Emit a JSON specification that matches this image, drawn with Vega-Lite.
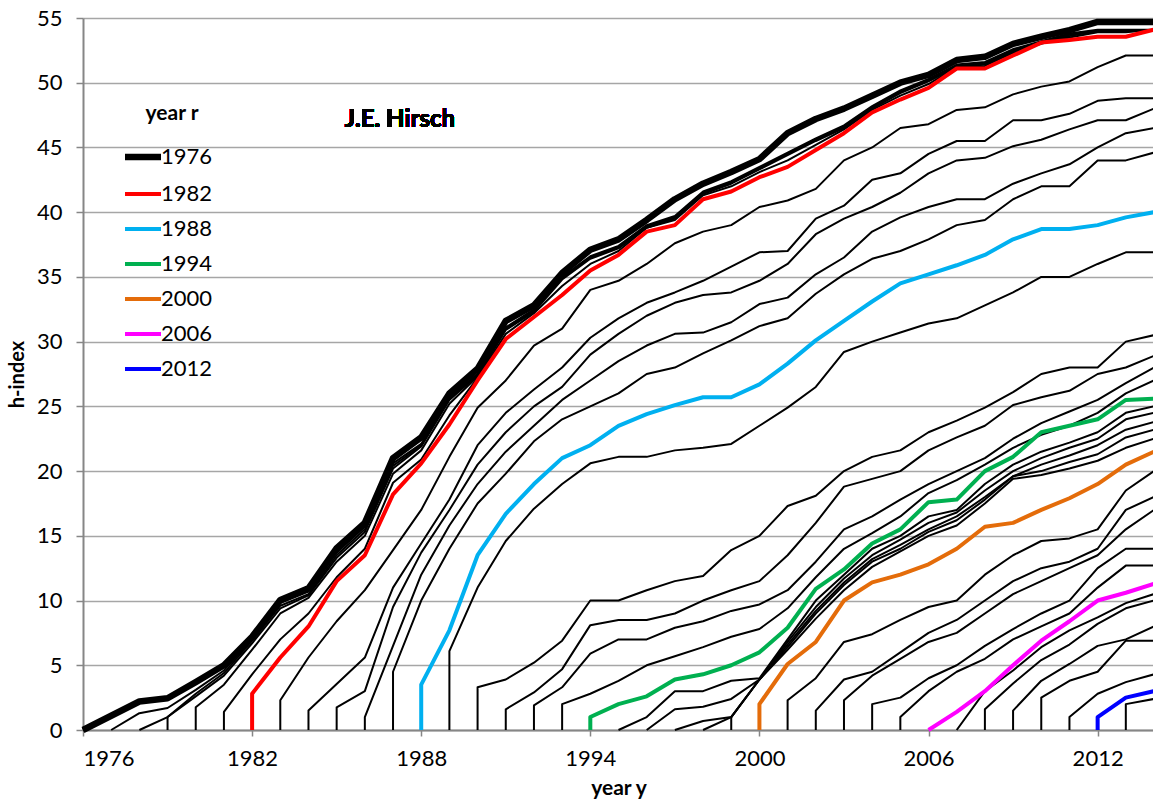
{
"$schema":"https://vega.github.io/schema/vega-lite/v6.json",
"width":1071,"height":712,
"autosize":{"type":"none"},
"padding":{"left":83,"top":18,"right":0,"bottom":81},
"background":"white",
"config":{"view":{"stroke":null},"font":"Lato"},
"data":{"values":[
{"r":1976,"x":1976,"h":0},{"r":1976,"x":1977,"h":1.1},{"r":1976,"x":1978,"h":2.2},{"r":1976,"x":1979,"h":2.45},{"r":1976,"x":1980,"h":3.7},{"r":1976,"x":1981,"h":5},{"r":1976,"x":1982,"h":7.2},{"r":1976,"x":1983,"h":10.05},{"r":1976,"x":1984,"h":10.95},{"r":1976,"x":1985,"h":14.05},{"r":1976,"x":1986,"h":16},{"r":1976,"x":1987,"h":21},{"r":1976,"x":1988,"h":22.6},{"r":1976,"x":1989,"h":26},{"r":1976,"x":1990,"h":27.9},{"r":1976,"x":1991,"h":31.6},{"r":1976,"x":1992,"h":32.8},{"r":1976,"x":1993,"h":35.3},{"r":1976,"x":1994,"h":37.1},{"r":1976,"x":1995,"h":37.9},{"r":1976,"x":1996,"h":39.4},{"r":1976,"x":1997,"h":41},{"r":1976,"x":1998,"h":42.2},{"r":1976,"x":1999,"h":43.1},{"r":1976,"x":2000,"h":44.1},{"r":1976,"x":2001,"h":46.1},{"r":1976,"x":2002,"h":47.2},{"r":1976,"x":2003,"h":48},{"r":1976,"x":2004,"h":49},{"r":1976,"x":2005,"h":50},{"r":1976,"x":2006,"h":50.6},{"r":1976,"x":2007,"h":51.75},{"r":1976,"x":2008,"h":52},{"r":1976,"x":2009,"h":53},{"r":1976,"x":2010,"h":53.55},{"r":1976,"x":2011,"h":54.07},{"r":1976,"x":2012,"h":54.7},{"r":1976,"x":2013,"h":54.7},{"r":1976,"x":2014,"h":54.7},
{"r":1977,"x":1977,"h":0},{"r":1977,"x":1978,"h":1.3},{"r":1977,"x":1979,"h":1.7},{"r":1977,"x":1980,"h":3.1},{"r":1977,"x":1981,"h":4.6},{"r":1977,"x":1982,"h":7},{"r":1977,"x":1983,"h":9.8},{"r":1977,"x":1984,"h":10.7},{"r":1977,"x":1985,"h":13.7},{"r":1977,"x":1986,"h":15.7},{"r":1977,"x":1987,"h":20.6},{"r":1977,"x":1988,"h":22.1},{"r":1977,"x":1989,"h":25.7},{"r":1977,"x":1990,"h":27.5},{"r":1977,"x":1991,"h":31.1},{"r":1977,"x":1992,"h":32.5},{"r":1977,"x":1993,"h":35},{"r":1977,"x":1994,"h":36.6},{"r":1977,"x":1995,"h":37.4},{"r":1977,"x":1996,"h":39},{"r":1977,"x":1997,"h":39.7},{"r":1977,"x":1998,"h":41.6},{"r":1977,"x":1999,"h":42.4},{"r":1977,"x":2000,"h":43.5},{"r":1977,"x":2001,"h":44.6},{"r":1977,"x":2002,"h":45.7},{"r":1977,"x":2003,"h":46.7},{"r":1977,"x":2004,"h":48.2},{"r":1977,"x":2005,"h":49.4},{"r":1977,"x":2006,"h":50.3},{"r":1977,"x":2007,"h":51.4},{"r":1977,"x":2008,"h":51.6},{"r":1977,"x":2009,"h":52.6},{"r":1977,"x":2010,"h":53.2},{"r":1977,"x":2011,"h":53.8},{"r":1977,"x":2012,"h":54.1},{"r":1977,"x":2013,"h":54.1},{"r":1977,"x":2014,"h":54.1},
{"r":1978,"x":1978,"h":0},{"r":1978,"x":1979,"h":1},{"r":1978,"x":1980,"h":2.8},{"r":1978,"x":1981,"h":4.4},{"r":1978,"x":1982,"h":6.9},{"r":1978,"x":1983,"h":9.6},{"r":1978,"x":1984,"h":10.5},{"r":1978,"x":1985,"h":13.5},{"r":1978,"x":1986,"h":15.5},{"r":1978,"x":1987,"h":20.4},{"r":1978,"x":1988,"h":22},{"r":1978,"x":1989,"h":25.6},{"r":1978,"x":1990,"h":27.5},{"r":1978,"x":1991,"h":31},{"r":1978,"x":1992,"h":32.4},{"r":1978,"x":1993,"h":34.9},{"r":1978,"x":1994,"h":36.5},{"r":1978,"x":1995,"h":37.3},{"r":1978,"x":1996,"h":38.9},{"r":1978,"x":1997,"h":39.6},{"r":1978,"x":1998,"h":41.5},{"r":1978,"x":1999,"h":42.3},{"r":1978,"x":2000,"h":43.4},{"r":1978,"x":2001,"h":44.5},{"r":1978,"x":2002,"h":45.6},{"r":1978,"x":2003,"h":46.6},{"r":1978,"x":2004,"h":48.1},{"r":1978,"x":2005,"h":49.3},{"r":1978,"x":2006,"h":50.2},{"r":1978,"x":2007,"h":51.3},{"r":1978,"x":2008,"h":51.5},{"r":1978,"x":2009,"h":52.5},{"r":1978,"x":2010,"h":53.1},{"r":1978,"x":2011,"h":53.7},{"r":1978,"x":2012,"h":54},{"r":1978,"x":2013,"h":54},{"r":1978,"x":2014,"h":54},
{"r":1979,"x":1979,"h":0},{"r":1979,"x":1979,"h":1},{"r":1979,"x":1980,"h":2.6},{"r":1979,"x":1981,"h":4.2},{"r":1979,"x":1982,"h":6.7},{"r":1979,"x":1983,"h":9.4},{"r":1979,"x":1984,"h":10.4},{"r":1979,"x":1985,"h":13.3},{"r":1979,"x":1986,"h":15.3},{"r":1979,"x":1987,"h":20.2},{"r":1979,"x":1988,"h":21.9},{"r":1979,"x":1989,"h":25.5},{"r":1979,"x":1990,"h":27.4},{"r":1979,"x":1991,"h":31},{"r":1979,"x":1992,"h":32.4},{"r":1979,"x":1993,"h":34.9},{"r":1979,"x":1994,"h":36.5},{"r":1979,"x":1995,"h":37.3},{"r":1979,"x":1996,"h":38.9},{"r":1979,"x":1997,"h":39.6},{"r":1979,"x":1998,"h":41.5},{"r":1979,"x":1999,"h":42.3},{"r":1979,"x":2000,"h":43.4},{"r":1979,"x":2001,"h":44.5},{"r":1979,"x":2002,"h":45.6},{"r":1979,"x":2003,"h":46.6},{"r":1979,"x":2004,"h":48.1},{"r":1979,"x":2005,"h":49.3},{"r":1979,"x":2006,"h":50.2},{"r":1979,"x":2007,"h":51.3},{"r":1979,"x":2008,"h":51.5},{"r":1979,"x":2009,"h":52.5},{"r":1979,"x":2010,"h":53.1},{"r":1979,"x":2011,"h":53.7},{"r":1979,"x":2012,"h":54},{"r":1979,"x":2013,"h":54},{"r":1979,"x":2014,"h":54},
{"r":1980,"x":1980,"h":0},{"r":1980,"x":1980,"h":1.75},{"r":1980,"x":1981,"h":3.5},{"r":1980,"x":1982,"h":6.2},{"r":1980,"x":1983,"h":9},{"r":1980,"x":1984,"h":10.2},{"r":1980,"x":1985,"h":13},{"r":1980,"x":1986,"h":15},{"r":1980,"x":1987,"h":19.8},{"r":1980,"x":1988,"h":21.6},{"r":1980,"x":1989,"h":25.2},{"r":1980,"x":1990,"h":27.3},{"r":1980,"x":1991,"h":30.9},{"r":1980,"x":1992,"h":32.3},{"r":1980,"x":1993,"h":34.8},{"r":1980,"x":1994,"h":36.4},{"r":1980,"x":1995,"h":37.2},{"r":1980,"x":1996,"h":38.8},{"r":1980,"x":1997,"h":39.5},{"r":1980,"x":1998,"h":41.4},{"r":1980,"x":1999,"h":42.2},{"r":1980,"x":2000,"h":43.3},{"r":1980,"x":2001,"h":44.4},{"r":1980,"x":2002,"h":45.5},{"r":1980,"x":2003,"h":46.5},{"r":1980,"x":2004,"h":48},{"r":1980,"x":2005,"h":49.2},{"r":1980,"x":2006,"h":50.1},{"r":1980,"x":2007,"h":51.2},{"r":1980,"x":2008,"h":51.4},{"r":1980,"x":2009,"h":52.4},{"r":1980,"x":2010,"h":53},{"r":1980,"x":2011,"h":53.6},{"r":1980,"x":2012,"h":54},{"r":1980,"x":2013,"h":54},{"r":1980,"x":2014,"h":54},
{"r":1981,"x":1981,"h":0},{"r":1981,"x":1981,"h":1.4},{"r":1981,"x":1982,"h":4.3},{"r":1981,"x":1983,"h":7},{"r":1981,"x":1984,"h":9},{"r":1981,"x":1985,"h":11.8},{"r":1981,"x":1986,"h":14},{"r":1981,"x":1987,"h":19.1},{"r":1981,"x":1988,"h":20.9},{"r":1981,"x":1989,"h":24.3},{"r":1981,"x":1990,"h":27.2},{"r":1981,"x":1991,"h":30.6},{"r":1981,"x":1992,"h":32.2},{"r":1981,"x":1993,"h":34.3},{"r":1981,"x":1994,"h":36},{"r":1981,"x":1995,"h":37},{"r":1981,"x":1996,"h":38.8},{"r":1981,"x":1997,"h":39.4},{"r":1981,"x":1998,"h":41.3},{"r":1981,"x":1999,"h":42},{"r":1981,"x":2000,"h":43.1},{"r":1981,"x":2001,"h":44},{"r":1981,"x":2002,"h":45.2},{"r":1981,"x":2003,"h":46.4},{"r":1981,"x":2004,"h":47.9},{"r":1981,"x":2005,"h":49},{"r":1981,"x":2006,"h":49.9},{"r":1981,"x":2007,"h":51.2},{"r":1981,"x":2008,"h":51.3},{"r":1981,"x":2009,"h":52.3},{"r":1981,"x":2010,"h":53.1},{"r":1981,"x":2011,"h":53.5},{"r":1981,"x":2012,"h":53.9},{"r":1981,"x":2013,"h":53.9},{"r":1981,"x":2014,"h":54.1},
{"r":1982,"x":1982,"h":0},{"r":1982,"x":1982,"h":2.8},{"r":1982,"x":1983,"h":5.6},{"r":1982,"x":1984,"h":8},{"r":1982,"x":1985,"h":11.5},{"r":1982,"x":1986,"h":13.5},{"r":1982,"x":1987,"h":18.2},{"r":1982,"x":1988,"h":20.6},{"r":1982,"x":1989,"h":23.6},{"r":1982,"x":1990,"h":27},{"r":1982,"x":1991,"h":30.2},{"r":1982,"x":1992,"h":31.9},{"r":1982,"x":1993,"h":33.6},{"r":1982,"x":1994,"h":35.5},{"r":1982,"x":1995,"h":36.7},{"r":1982,"x":1996,"h":38.5},{"r":1982,"x":1997,"h":39},{"r":1982,"x":1998,"h":41},{"r":1982,"x":1999,"h":41.6},{"r":1982,"x":2000,"h":42.7},{"r":1982,"x":2001,"h":43.5},{"r":1982,"x":2002,"h":44.8},{"r":1982,"x":2003,"h":46.1},{"r":1982,"x":2004,"h":47.7},{"r":1982,"x":2005,"h":48.7},{"r":1982,"x":2006,"h":49.6},{"r":1982,"x":2007,"h":51.1},{"r":1982,"x":2008,"h":51.1},{"r":1982,"x":2009,"h":52.1},{"r":1982,"x":2010,"h":53.1},{"r":1982,"x":2011,"h":53.3},{"r":1982,"x":2012,"h":53.55},{"r":1982,"x":2013,"h":53.55},{"r":1982,"x":2014,"h":54.1},
{"r":1983,"x":1983,"h":0},{"r":1983,"x":1983,"h":2.3},{"r":1983,"x":1984,"h":5.6},{"r":1983,"x":1985,"h":8.4},{"r":1983,"x":1986,"h":10.8},{"r":1983,"x":1987,"h":13.9},{"r":1983,"x":1988,"h":17},{"r":1983,"x":1989,"h":21.1},{"r":1983,"x":1990,"h":24.9},{"r":1983,"x":1991,"h":27},{"r":1983,"x":1992,"h":29.7},{"r":1983,"x":1993,"h":31},{"r":1983,"x":1994,"h":34},{"r":1983,"x":1995,"h":34.7},{"r":1983,"x":1996,"h":36},{"r":1983,"x":1997,"h":37.6},{"r":1983,"x":1998,"h":38.5},{"r":1983,"x":1999,"h":39},{"r":1983,"x":2000,"h":40.4},{"r":1983,"x":2001,"h":40.9},{"r":1983,"x":2002,"h":41.8},{"r":1983,"x":2003,"h":44},{"r":1983,"x":2004,"h":45},{"r":1983,"x":2005,"h":46.5},{"r":1983,"x":2006,"h":46.8},{"r":1983,"x":2007,"h":47.9},{"r":1983,"x":2008,"h":48.1},{"r":1983,"x":2009,"h":49.1},{"r":1983,"x":2010,"h":49.7},{"r":1983,"x":2011,"h":50.1},{"r":1983,"x":2012,"h":51.2},{"r":1983,"x":2013,"h":52.1},{"r":1983,"x":2014,"h":52.1},
{"r":1984,"x":1984,"h":0},{"r":1984,"x":1984,"h":1.5},{"r":1984,"x":1985,"h":3.55},{"r":1984,"x":1986,"h":5.6},{"r":1984,"x":1987,"h":11},{"r":1984,"x":1988,"h":14.4},{"r":1984,"x":1989,"h":17.8},{"r":1984,"x":1990,"h":22},{"r":1984,"x":1991,"h":24.5},{"r":1984,"x":1992,"h":26.3},{"r":1984,"x":1993,"h":28},{"r":1984,"x":1994,"h":30.3},{"r":1984,"x":1995,"h":31.8},{"r":1984,"x":1996,"h":33},{"r":1984,"x":1997,"h":33.8},{"r":1984,"x":1998,"h":34.7},{"r":1984,"x":1999,"h":35.8},{"r":1984,"x":2000,"h":36.9},{"r":1984,"x":2001,"h":37},{"r":1984,"x":2002,"h":39.5},{"r":1984,"x":2003,"h":40.5},{"r":1984,"x":2004,"h":42.5},{"r":1984,"x":2005,"h":43},{"r":1984,"x":2006,"h":44.5},{"r":1984,"x":2007,"h":45.5},{"r":1984,"x":2008,"h":45.5},{"r":1984,"x":2009,"h":47.1},{"r":1984,"x":2010,"h":47.1},{"r":1984,"x":2011,"h":47.6},{"r":1984,"x":2012,"h":48.6},{"r":1984,"x":2013,"h":48.8},{"r":1984,"x":2014,"h":48.8},
{"r":1985,"x":1985,"h":0},{"r":1985,"x":1985,"h":1.75},{"r":1985,"x":1986,"h":3},{"r":1985,"x":1987,"h":9.5},{"r":1985,"x":1988,"h":13.7},{"r":1985,"x":1989,"h":17},{"r":1985,"x":1990,"h":20.5},{"r":1985,"x":1991,"h":23},{"r":1985,"x":1992,"h":25},{"r":1985,"x":1993,"h":26.5},{"r":1985,"x":1994,"h":29},{"r":1985,"x":1995,"h":30.6},{"r":1985,"x":1996,"h":32},{"r":1985,"x":1997,"h":33},{"r":1985,"x":1998,"h":33.6},{"r":1985,"x":1999,"h":33.8},{"r":1985,"x":2000,"h":34.7},{"r":1985,"x":2001,"h":36},{"r":1985,"x":2002,"h":38.3},{"r":1985,"x":2003,"h":39.5},{"r":1985,"x":2004,"h":40.4},{"r":1985,"x":2005,"h":41.5},{"r":1985,"x":2006,"h":43},{"r":1985,"x":2007,"h":44},{"r":1985,"x":2008,"h":44.2},{"r":1985,"x":2009,"h":45.1},{"r":1985,"x":2010,"h":45.6},{"r":1985,"x":2011,"h":46.4},{"r":1985,"x":2012,"h":47.1},{"r":1985,"x":2013,"h":47.1},{"r":1985,"x":2014,"h":48},
{"r":1986,"x":1986,"h":0},{"r":1986,"x":1986,"h":1},{"r":1986,"x":1987,"h":6.5},{"r":1986,"x":1988,"h":12},{"r":1986,"x":1989,"h":15.8},{"r":1986,"x":1990,"h":19},{"r":1986,"x":1991,"h":21.5},{"r":1986,"x":1992,"h":23.5},{"r":1986,"x":1993,"h":25.5},{"r":1986,"x":1994,"h":27},{"r":1986,"x":1995,"h":28.5},{"r":1986,"x":1996,"h":29.7},{"r":1986,"x":1997,"h":30.6},{"r":1986,"x":1998,"h":30.7},{"r":1986,"x":1999,"h":31.5},{"r":1986,"x":2000,"h":32.9},{"r":1986,"x":2001,"h":33.4},{"r":1986,"x":2002,"h":35.2},{"r":1986,"x":2003,"h":36.5},{"r":1986,"x":2004,"h":38.5},{"r":1986,"x":2005,"h":39.6},{"r":1986,"x":2006,"h":40.4},{"r":1986,"x":2007,"h":41},{"r":1986,"x":2008,"h":41},{"r":1986,"x":2009,"h":42.2},{"r":1986,"x":2010,"h":43},{"r":1986,"x":2011,"h":43.7},{"r":1986,"x":2012,"h":45},{"r":1986,"x":2013,"h":46.1},{"r":1986,"x":2014,"h":46.5},
{"r":1987,"x":1987,"h":0},{"r":1987,"x":1987,"h":4.5},{"r":1987,"x":1988,"h":10},{"r":1987,"x":1989,"h":14},{"r":1987,"x":1990,"h":17.5},{"r":1987,"x":1991,"h":19.8},{"r":1987,"x":1992,"h":22.3},{"r":1987,"x":1993,"h":24},{"r":1987,"x":1994,"h":25},{"r":1987,"x":1995,"h":26},{"r":1987,"x":1996,"h":27.5},{"r":1987,"x":1997,"h":28},{"r":1987,"x":1998,"h":29.1},{"r":1987,"x":1999,"h":30.1},{"r":1987,"x":2000,"h":31.2},{"r":1987,"x":2001,"h":31.8},{"r":1987,"x":2002,"h":33.7},{"r":1987,"x":2003,"h":35.2},{"r":1987,"x":2004,"h":36.4},{"r":1987,"x":2005,"h":37},{"r":1987,"x":2006,"h":37.9},{"r":1987,"x":2007,"h":39},{"r":1987,"x":2008,"h":39.4},{"r":1987,"x":2009,"h":41},{"r":1987,"x":2010,"h":42},{"r":1987,"x":2011,"h":42},{"r":1987,"x":2012,"h":44},{"r":1987,"x":2013,"h":44},{"r":1987,"x":2014,"h":44.6},
{"r":1988,"x":1988,"h":0},{"r":1988,"x":1988,"h":3.5},{"r":1988,"x":1989,"h":7.7},{"r":1988,"x":1990,"h":13.5},{"r":1988,"x":1991,"h":16.7},{"r":1988,"x":1992,"h":19},{"r":1988,"x":1993,"h":21},{"r":1988,"x":1994,"h":22},{"r":1988,"x":1995,"h":23.5},{"r":1988,"x":1996,"h":24.4},{"r":1988,"x":1997,"h":25.1},{"r":1988,"x":1998,"h":25.7},{"r":1988,"x":1999,"h":25.7},{"r":1988,"x":2000,"h":26.7},{"r":1988,"x":2001,"h":28.3},{"r":1988,"x":2002,"h":30.1},{"r":1988,"x":2003,"h":31.6},{"r":1988,"x":2004,"h":33.1},{"r":1988,"x":2005,"h":34.5},{"r":1988,"x":2006,"h":35.2},{"r":1988,"x":2007,"h":35.9},{"r":1988,"x":2008,"h":36.7},{"r":1988,"x":2009,"h":37.9},{"r":1988,"x":2010,"h":38.7},{"r":1988,"x":2011,"h":38.7},{"r":1988,"x":2012,"h":39},{"r":1988,"x":2013,"h":39.6},{"r":1988,"x":2014,"h":40},
{"r":1989,"x":1989,"h":0},{"r":1989,"x":1989,"h":6.1},{"r":1989,"x":1990,"h":11},{"r":1989,"x":1991,"h":14.6},{"r":1989,"x":1992,"h":17.1},{"r":1989,"x":1993,"h":19},{"r":1989,"x":1994,"h":20.6},{"r":1989,"x":1995,"h":21.1},{"r":1989,"x":1996,"h":21.1},{"r":1989,"x":1997,"h":21.6},{"r":1989,"x":1998,"h":21.8},{"r":1989,"x":1999,"h":22.1},{"r":1989,"x":2000,"h":23.5},{"r":1989,"x":2001,"h":24.9},{"r":1989,"x":2002,"h":26.5},{"r":1989,"x":2003,"h":29.2},{"r":1989,"x":2004,"h":30},{"r":1989,"x":2005,"h":30.7},{"r":1989,"x":2006,"h":31.4},{"r":1989,"x":2007,"h":31.8},{"r":1989,"x":2008,"h":32.8},{"r":1989,"x":2009,"h":33.8},{"r":1989,"x":2010,"h":35},{"r":1989,"x":2011,"h":35},{"r":1989,"x":2012,"h":36},{"r":1989,"x":2013,"h":36.9},{"r":1989,"x":2014,"h":36.9},
{"r":1990,"x":1990,"h":0},{"r":1990,"x":1990,"h":3.3},{"r":1990,"x":1991,"h":3.9},{"r":1990,"x":1992,"h":5.2},{"r":1990,"x":1993,"h":6.9},{"r":1990,"x":1994,"h":10},{"r":1990,"x":1995,"h":10},{"r":1990,"x":1996,"h":10.8},{"r":1990,"x":1997,"h":11.5},{"r":1990,"x":1998,"h":11.9},{"r":1990,"x":1999,"h":13.9},{"r":1990,"x":2000,"h":15},{"r":1990,"x":2001,"h":17.3},{"r":1990,"x":2002,"h":18.1},{"r":1990,"x":2003,"h":20},{"r":1990,"x":2004,"h":21.1},{"r":1990,"x":2005,"h":21.6},{"r":1990,"x":2006,"h":23},{"r":1990,"x":2007,"h":23.9},{"r":1990,"x":2008,"h":24.9},{"r":1990,"x":2009,"h":26.1},{"r":1990,"x":2010,"h":27.5},{"r":1990,"x":2011,"h":28},{"r":1990,"x":2012,"h":28},{"r":1990,"x":2013,"h":30},{"r":1990,"x":2014,"h":30.5},
{"r":1991,"x":1991,"h":0},{"r":1991,"x":1991,"h":1.6},{"r":1991,"x":1992,"h":2.9},{"r":1991,"x":1993,"h":4.7},{"r":1991,"x":1994,"h":8.1},{"r":1991,"x":1995,"h":8.5},{"r":1991,"x":1996,"h":8.5},{"r":1991,"x":1997,"h":9},{"r":1991,"x":1998,"h":10},{"r":1991,"x":1999,"h":10.8},{"r":1991,"x":2000,"h":11.5},{"r":1991,"x":2001,"h":13.5},{"r":1991,"x":2002,"h":16},{"r":1991,"x":2003,"h":18.8},{"r":1991,"x":2004,"h":19.4},{"r":1991,"x":2005,"h":20},{"r":1991,"x":2006,"h":21.6},{"r":1991,"x":2007,"h":22.6},{"r":1991,"x":2008,"h":23.5},{"r":1991,"x":2009,"h":25.1},{"r":1991,"x":2010,"h":25.7},{"r":1991,"x":2011,"h":26.2},{"r":1991,"x":2012,"h":27.5},{"r":1991,"x":2013,"h":28},{"r":1991,"x":2014,"h":28.9},
{"r":1992,"x":1992,"h":0},{"r":1992,"x":1992,"h":1.9},{"r":1992,"x":1993,"h":3.3},{"r":1992,"x":1994,"h":5.9},{"r":1992,"x":1995,"h":7},{"r":1992,"x":1996,"h":7},{"r":1992,"x":1997,"h":7.9},{"r":1992,"x":1998,"h":8.4},{"r":1992,"x":1999,"h":9.2},{"r":1992,"x":2000,"h":9.7},{"r":1992,"x":2001,"h":10.8},{"r":1992,"x":2002,"h":13},{"r":1992,"x":2003,"h":15.5},{"r":1992,"x":2004,"h":16.5},{"r":1992,"x":2005,"h":17.8},{"r":1992,"x":2006,"h":19},{"r":1992,"x":2007,"h":20},{"r":1992,"x":2008,"h":21},{"r":1992,"x":2009,"h":22.5},{"r":1992,"x":2010,"h":23.7},{"r":1992,"x":2011,"h":24.6},{"r":1992,"x":2012,"h":25.5},{"r":1992,"x":2013,"h":26.8},{"r":1992,"x":2014,"h":28},
{"r":1993,"x":1993,"h":0},{"r":1993,"x":1993,"h":2},{"r":1993,"x":1994,"h":2.8},{"r":1993,"x":1995,"h":3.8},{"r":1993,"x":1996,"h":5},{"r":1993,"x":1997,"h":5.7},{"r":1993,"x":1998,"h":6.4},{"r":1993,"x":1999,"h":7.2},{"r":1993,"x":2000,"h":7.8},{"r":1993,"x":2001,"h":9.4},{"r":1993,"x":2002,"h":11.8},{"r":1993,"x":2003,"h":14},{"r":1993,"x":2004,"h":15.2},{"r":1993,"x":2005,"h":16.5},{"r":1993,"x":2006,"h":18.3},{"r":1993,"x":2007,"h":19.3},{"r":1993,"x":2008,"h":20.5},{"r":1993,"x":2009,"h":21.8},{"r":1993,"x":2010,"h":22.8},{"r":1993,"x":2011,"h":23.5},{"r":1993,"x":2012,"h":24.5},{"r":1993,"x":2013,"h":26},{"r":1993,"x":2014,"h":27},
{"r":1994,"x":1994,"h":0},{"r":1994,"x":1994,"h":1},{"r":1994,"x":1995,"h":2},{"r":1994,"x":1996,"h":2.6},{"r":1994,"x":1997,"h":3.9},{"r":1994,"x":1998,"h":4.3},{"r":1994,"x":1999,"h":5},{"r":1994,"x":2000,"h":6},{"r":1994,"x":2001,"h":7.9},{"r":1994,"x":2002,"h":10.9},{"r":1994,"x":2003,"h":12.4},{"r":1994,"x":2004,"h":14.4},{"r":1994,"x":2005,"h":15.5},{"r":1994,"x":2006,"h":17.6},{"r":1994,"x":2007,"h":17.8},{"r":1994,"x":2008,"h":20},{"r":1994,"x":2009,"h":21.1},{"r":1994,"x":2010,"h":23},{"r":1994,"x":2011,"h":23.5},{"r":1994,"x":2012,"h":24},{"r":1994,"x":2013,"h":25.5},{"r":1994,"x":2014,"h":25.6},
{"r":1995,"x":1995,"h":0},{"r":1995,"x":1996,"h":1},{"r":1995,"x":1997,"h":3},{"r":1995,"x":1998,"h":3},{"r":1995,"x":1999,"h":3.8},{"r":1995,"x":2000,"h":4},{"r":1995,"x":2001,"h":7},{"r":1995,"x":2002,"h":10},{"r":1995,"x":2003,"h":12},{"r":1995,"x":2004,"h":14},{"r":1995,"x":2005,"h":15},{"r":1995,"x":2006,"h":16.5},{"r":1995,"x":2007,"h":17},{"r":1995,"x":2008,"h":19},{"r":1995,"x":2009,"h":20.5},{"r":1995,"x":2010,"h":21.5},{"r":1995,"x":2011,"h":22.2},{"r":1995,"x":2012,"h":23},{"r":1995,"x":2013,"h":24.5},{"r":1995,"x":2014,"h":25},
{"r":1996,"x":1996,"h":0},{"r":1996,"x":1997,"h":1.6},{"r":1996,"x":1998,"h":1.8},{"r":1996,"x":1999,"h":2.4},{"r":1996,"x":2000,"h":3.9},{"r":1996,"x":2001,"h":6.8},{"r":1996,"x":2002,"h":9.5},{"r":1996,"x":2003,"h":11.7},{"r":1996,"x":2004,"h":13.5},{"r":1996,"x":2005,"h":14.7},{"r":1996,"x":2006,"h":16},{"r":1996,"x":2007,"h":16.8},{"r":1996,"x":2008,"h":18.5},{"r":1996,"x":2009,"h":20},{"r":1996,"x":2010,"h":21},{"r":1996,"x":2011,"h":21.8},{"r":1996,"x":2012,"h":22.5},{"r":1996,"x":2013,"h":24},{"r":1996,"x":2014,"h":24.5},
{"r":1997,"x":1997,"h":0},{"r":1997,"x":1998,"h":0.7},{"r":1997,"x":1999,"h":1},{"r":1997,"x":2000,"h":3.9},{"r":1997,"x":2001,"h":6.6},{"r":1997,"x":2002,"h":9.2},{"r":1997,"x":2003,"h":11.4},{"r":1997,"x":2004,"h":13.2},{"r":1997,"x":2005,"h":14.3},{"r":1997,"x":2006,"h":15.5},{"r":1997,"x":2007,"h":16.5},{"r":1997,"x":2008,"h":18},{"r":1997,"x":2009,"h":19.6},{"r":1997,"x":2010,"h":20.5},{"r":1997,"x":2011,"h":21.2},{"r":1997,"x":2012,"h":22},{"r":1997,"x":2013,"h":23.2},{"r":1997,"x":2014,"h":23.8},
{"r":1998,"x":1998,"h":0},{"r":1998,"x":1999,"h":1},{"r":1998,"x":2000,"h":3.9},{"r":1998,"x":2001,"h":6.4},{"r":1998,"x":2002,"h":9},{"r":1998,"x":2003,"h":11.2},{"r":1998,"x":2004,"h":13},{"r":1998,"x":2005,"h":14},{"r":1998,"x":2006,"h":15.3},{"r":1998,"x":2007,"h":16.2},{"r":1998,"x":2008,"h":17.8},{"r":1998,"x":2009,"h":19.6},{"r":1998,"x":2010,"h":20},{"r":1998,"x":2011,"h":20.7},{"r":1998,"x":2012,"h":21.3},{"r":1998,"x":2013,"h":22.6},{"r":1998,"x":2014,"h":23.2},
{"r":1999,"x":1999,"h":0},{"r":1999,"x":1999,"h":1},{"r":1999,"x":2000,"h":3.9},{"r":1999,"x":2001,"h":6.2},{"r":1999,"x":2002,"h":8.6},{"r":1999,"x":2003,"h":10.8},{"r":1999,"x":2004,"h":12.6},{"r":1999,"x":2005,"h":13.8},{"r":1999,"x":2006,"h":15},{"r":1999,"x":2007,"h":15.8},{"r":1999,"x":2008,"h":17.5},{"r":1999,"x":2009,"h":19.4},{"r":1999,"x":2010,"h":19.7},{"r":1999,"x":2011,"h":20.2},{"r":1999,"x":2012,"h":20.8},{"r":1999,"x":2013,"h":21.8},{"r":1999,"x":2014,"h":22.5},
{"r":2000,"x":2000,"h":0},{"r":2000,"x":2000,"h":2},{"r":2000,"x":2001,"h":5.1},{"r":2000,"x":2002,"h":6.8},{"r":2000,"x":2003,"h":10},{"r":2000,"x":2004,"h":11.4},{"r":2000,"x":2005,"h":12},{"r":2000,"x":2006,"h":12.8},{"r":2000,"x":2007,"h":14},{"r":2000,"x":2008,"h":15.7},{"r":2000,"x":2009,"h":16},{"r":2000,"x":2010,"h":17},{"r":2000,"x":2011,"h":17.9},{"r":2000,"x":2012,"h":19},{"r":2000,"x":2013,"h":20.5},{"r":2000,"x":2014,"h":21.5},
{"r":2001,"x":2001,"h":0},{"r":2001,"x":2001,"h":2.3},{"r":2001,"x":2002,"h":4},{"r":2001,"x":2003,"h":6.8},{"r":2001,"x":2004,"h":7.4},{"r":2001,"x":2005,"h":8.5},{"r":2001,"x":2006,"h":9.5},{"r":2001,"x":2007,"h":10},{"r":2001,"x":2008,"h":12},{"r":2001,"x":2009,"h":13.5},{"r":2001,"x":2010,"h":14.6},{"r":2001,"x":2011,"h":14.8},{"r":2001,"x":2012,"h":15.5},{"r":2001,"x":2013,"h":18.5},{"r":2001,"x":2014,"h":20},
{"r":2002,"x":2002,"h":0},{"r":2002,"x":2002,"h":1.5},{"r":2002,"x":2003,"h":3.9},{"r":2002,"x":2004,"h":4.5},{"r":2002,"x":2005,"h":6},{"r":2002,"x":2006,"h":7.5},{"r":2002,"x":2007,"h":8.5},{"r":2002,"x":2008,"h":10},{"r":2002,"x":2009,"h":11.5},{"r":2002,"x":2010,"h":12.5},{"r":2002,"x":2011,"h":13},{"r":2002,"x":2012,"h":14},{"r":2002,"x":2013,"h":17},{"r":2002,"x":2014,"h":18},
{"r":2003,"x":2003,"h":0},{"r":2003,"x":2003,"h":2.3},{"r":2003,"x":2004,"h":4.2},{"r":2003,"x":2005,"h":5.5},{"r":2003,"x":2006,"h":6.8},{"r":2003,"x":2007,"h":7.5},{"r":2003,"x":2008,"h":9},{"r":2003,"x":2009,"h":10.5},{"r":2003,"x":2010,"h":11.5},{"r":2003,"x":2011,"h":12.5},{"r":2003,"x":2012,"h":13.5},{"r":2003,"x":2013,"h":15.5},{"r":2003,"x":2014,"h":17},
{"r":2004,"x":2004,"h":0},{"r":2004,"x":2004,"h":2},{"r":2004,"x":2005,"h":2.5},{"r":2004,"x":2006,"h":4},{"r":2004,"x":2007,"h":5},{"r":2004,"x":2008,"h":6.5},{"r":2004,"x":2009,"h":7.8},{"r":2004,"x":2010,"h":9},{"r":2004,"x":2011,"h":10},{"r":2004,"x":2012,"h":12.5},{"r":2004,"x":2013,"h":14},{"r":2004,"x":2014,"h":14},
{"r":2005,"x":2005,"h":0},{"r":2005,"x":2005,"h":1},{"r":2005,"x":2006,"h":3},{"r":2005,"x":2007,"h":4.5},{"r":2005,"x":2008,"h":5.5},{"r":2005,"x":2009,"h":7},{"r":2005,"x":2010,"h":8},{"r":2005,"x":2011,"h":9},{"r":2005,"x":2012,"h":11},{"r":2005,"x":2013,"h":12.7},{"r":2005,"x":2014,"h":12.7},
{"r":2006,"x":2006,"h":0},{"r":2006,"x":2007,"h":1.4},{"r":2006,"x":2008,"h":3},{"r":2006,"x":2009,"h":5},{"r":2006,"x":2010,"h":6.9},{"r":2006,"x":2011,"h":8.4},{"r":2006,"x":2012,"h":10},{"r":2006,"x":2013,"h":10.6},{"r":2006,"x":2014,"h":11.3},
{"r":2007,"x":2007,"h":0},{"r":2007,"x":2008,"h":3},{"r":2007,"x":2009,"h":4.6},{"r":2007,"x":2010,"h":6.4},{"r":2007,"x":2011,"h":7.7},{"r":2007,"x":2012,"h":8.7},{"r":2007,"x":2013,"h":9.8},{"r":2007,"x":2014,"h":10.5},
{"r":2008,"x":2008,"h":0},{"r":2008,"x":2008,"h":1.6},{"r":2008,"x":2009,"h":3.6},{"r":2008,"x":2010,"h":5.4},{"r":2008,"x":2011,"h":6.6},{"r":2008,"x":2012,"h":8.2},{"r":2008,"x":2013,"h":9.4},{"r":2008,"x":2014,"h":10},
{"r":2009,"x":2009,"h":0},{"r":2009,"x":2009,"h":1.5},{"r":2009,"x":2010,"h":3.8},{"r":2009,"x":2011,"h":5.1},{"r":2009,"x":2012,"h":6.5},{"r":2009,"x":2013,"h":7},{"r":2009,"x":2014,"h":8},
{"r":2010,"x":2010,"h":0},{"r":2010,"x":2010,"h":2.5},{"r":2010,"x":2011,"h":3.8},{"r":2010,"x":2012,"h":4.5},{"r":2010,"x":2013,"h":6.9},{"r":2010,"x":2014,"h":6.9},
{"r":2011,"x":2011,"h":0},{"r":2011,"x":2011,"h":1},{"r":2011,"x":2012,"h":2.8},{"r":2011,"x":2013,"h":3.7},{"r":2011,"x":2014,"h":4.3},
{"r":2012,"x":2012,"h":0},{"r":2012,"x":2012,"h":1},{"r":2012,"x":2013,"h":2.5},{"r":2012,"x":2014,"h":3},
{"r":2013,"x":2013,"h":0},{"r":2013,"x":2013,"h":2},{"r":2013,"x":2014,"h":2.4}
]},
"encoding":{
 "x":{"field":"x","type":"quantitative","scale":{"domain":[1976,2014],"nice":false,"zero":false},
  "axis":{"values":[1976,1982,1988,1994,2000,2006,2012],"format":"d","grid":false,"title":"year y",
   "domainColor":"#868686","domainWidth":2,"tickColor":"#868686","tickWidth":1.5,"tickSize":6,
   "labelFont":"Lato","labelFontSize":22,"labelColor":"black","labelPadding":12,
   "titleFont":"Lato","titleFontSize":21,"titleFontWeight":"bold","titleColor":"black","titlePadding":8}},
 "y":{"field":"h","type":"quantitative","scale":{"domain":[0,55],"nice":false},
  "axis":{"values":[0,5,10,15,20,25,30,35,40,45,50,55],"grid":true,"gridColor":"#A6A6A6","gridWidth":1.5,"title":"h-index",
   "domainColor":"#868686","domainWidth":2,"tickColor":"#868686","tickWidth":1.5,"tickSize":7,
   "labelFont":"Lato","labelFontSize":22,"labelColor":"black","labelPadding":14,
   "titleFont":"Lato","titleFontSize":20,"titleFontWeight":"bold","titleColor":"black","titlePadding":9}}
},
"layer":[
 {"transform":[{"filter":{"not":{"field":"r","oneOf":[1976,1982,1988,1994,2000,2006,2012]}}}],
  "mark":{"type":"line","color":"black","strokeWidth":2,"strokeJoin":"round"},
  "encoding":{"detail":{"field":"r","type":"nominal"}}},
 {"transform":[{"filter":{"field":"r","oneOf":[1976,1982,1988,1994,2000,2006,2012]}}],
  "mark":{"type":"line","strokeWidth":4,"strokeJoin":"round"},
  "encoding":{"color":{"field":"r","type":"nominal",
   "scale":{"domain":[1976,1982,1988,1994,2000,2006,2012],"range":["#000000","#FF0000","#00B0F0","#00B050","#E46C0A","#FF00FF","#0000FF"]},
   "legend":{"orient":"none","legendX":49,"legendY":85,"title":"year r","titleFont":"Lato","titleFontSize":21,"titleFontWeight":"bold","titleColor":"black","titleAnchor":"middle","titlePadding":22,
    "labelFont":"Lato","labelFontSize":22,"labelColor":"black","labelOffset":7,"symbolType":"stroke","symbolSize":1296,"symbolStrokeWidth":4,"rowPadding":13,
    "encode":{"symbols":{"update":{"strokeWidth":{"signal":"datum.value === 1976 ? 6.5 : 4"}}}}}}}},
 {"transform":[{"filter":{"field":"r","equal":1976}}],
  "mark":{"type":"line","color":"black","strokeWidth":6.5,"strokeJoin":"round"},
  "encoding":{}},
 {"mark":{"type":"text","text":"J.E. Hirsch","font":"Lato","fontSize":24,"fontWeight":"bold","color":"black","align":"left","baseline":"alphabetic"},
  "encoding":{"x":{"datum":1985.29},"y":{"datum":46.55}}}
]
}
